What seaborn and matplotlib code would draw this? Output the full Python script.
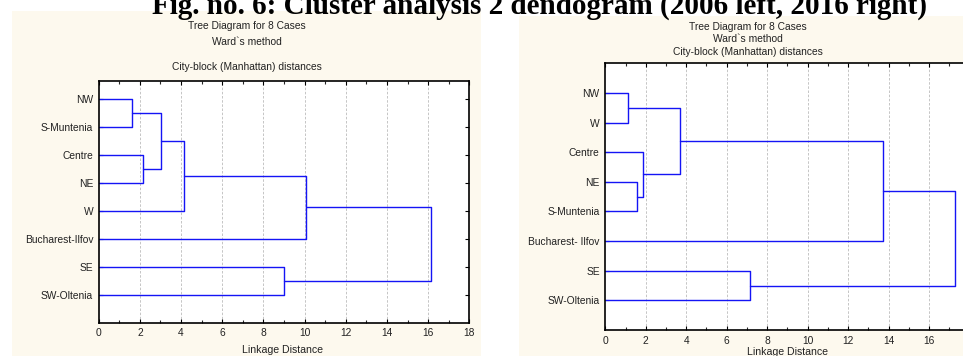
import matplotlib
matplotlib.use("Agg")
import matplotlib.pyplot as plt
import seaborn as sns
import pandas as pd
from matplotlib.patches import Rectangle

# ---------------- data ----------------
leaves_2006 = ["NW", "S-Muntenia", "Centre", "NE", "W", "Bucharest-Ilfov", "SE", "SW-Oltenia"]
merge_a_2006 = [0, 2, 8, 10, 11, 6, 12]
merge_b_2006 = [1, 3, 9, 4, 5, 7, 13]
height_2006 = [1.60, 2.17, 3.01, 4.16, 10.05, 8.99, 16.12]

leaves_2016 = ["NW", "W", "Centre", "NE", "S-Muntenia", "Bucharest- Ilfov", "SE", "SW-Oltenia"]
merge_a_2016 = [0, 3, 2, 8, 11, 6, 12]
merge_b_2016 = [1, 4, 9, 10, 5, 7, 13]
height_2016 = [1.14, 1.57, 1.88, 3.71, 13.71, 7.17, 17.28]

x_ticks = [0, 2, 4, 6, 8, 10, 12, 14, 16, 18]
subtitles = ["Tree Diagram for 8 Cases", "Ward`s method", "City-block (Manhattan) distances"]
fig_title = "Fig. no. 6: Cluster analysis 2 dendogram (2006 left, 2016 right)"
x_label = "Linkage Distance"

sns.set_style("white")
plt.rcParams["font.family"] = ["Liberation Sans", "DejaVu Sans"]

W, H = 963, 356
fig = plt.figure(figsize=(W / 100, H / 100), dpi=100)
fig.patch.set_facecolor("white")

BEIGE = "#FDF9EE"
BLUE = "#1414F5"
TXT = "#222222"


def fx(px):
    return px / W


def fy(py):
    return 1 - py / H


def dendro_frame(leaves, ma, mb, hs):
    n = len(leaves)
    pos = {i: i + 1 for i in range(n)}
    hgt = {i: 0.0 for i in range(n)}
    rows = []
    for k, (a, b, h) in enumerate(zip(ma, mb, hs)):
        ya, yb = pos[a], pos[b]
        seg = f"m{k}"
        for (x, y) in [(hgt[a], ya), (h, ya), (h, yb), (hgt[b], yb)]:
            rows.append({"x": x, "y": y, "seg": seg})
        new = n + k
        pos[new] = (ya + yb) / 2
        hgt[new] = h
    return pd.DataFrame(rows)


def draw_panel(rect, leaves, ma, mb, hs, ylim):
    ax = fig.add_axes(rect)
    ax.set_facecolor("white")
    df = dendro_frame(leaves, ma, mb, hs)
    sns.lineplot(data=df, x="x", y="y", units="seg", estimator=None, sort=False,
                 color=BLUE, linewidth=1.0, ax=ax, legend=False)
    ax.set_xlim(0, 18)
    ax.set_ylim(*ylim)
    ax.set_xticks(x_ticks)
    ax.set_xticks(range(1, 18, 2), minor=True)
    ax.set_xticklabels([str(t) for t in x_ticks], fontsize=7.4)
    ax.set_yticks(range(1, len(leaves) + 1))
    ax.set_yticklabels(leaves, fontsize=7.4)
    ax.set_xlabel("")
    ax.set_ylabel("")
    for t in x_ticks[1:-1]:
        ax.axvline(t, color="#BBBBBB", linestyle=(0, (3, 2)), linewidth=0.6, zorder=0)
    for s in ax.spines.values():
        s.set_visible(True)
        s.set_color("black")
        s.set_linewidth(1.2)
    ax.tick_params(axis="x", which="major", direction="in", length=3, width=0.8,
                   top=True, bottom=True, pad=4, colors="black", labelcolor=TXT)
    ax.tick_params(axis="x", which="minor", direction="in", length=2, width=0.8,
                   top=True, bottom=True)
    ax.tick_params(axis="y", direction="in", length=3, width=0.8, left=True, right=True,
                   pad=4, colors="black", labelcolor=TXT)
    return ax


# beige panels
fig.patches.append(Rectangle((fx(12), 0), fx(481 - 12), fy(11), transform=fig.transFigure,
                             facecolor=BEIGE, edgecolor="none", zorder=-10))
fig.patches.append(Rectangle((fx(519), 0), fx(460), fy(16), transform=fig.transFigure,
                             facecolor=BEIGE, edgecolor="none", zorder=-10))

# left panel
L0, L1, T0, B0 = 98.7, 469.3, 81, 322.7
draw_panel([fx(L0), fy(B0), fx(L1 - L0), (B0 - T0) / H],
           leaves_2006, merge_a_2006, merge_b_2006, height_2006, (9.0, 0.35))

# right panel (extends past figure edge)
R0, R1, T1, B1 = 605.3, 605.3 + 18 * 20.23, 63.3, 330
draw_panel([fx(R0), fy(B1), fx(R1 - R0), (B1 - T1) / H],
           leaves_2016, merge_a_2016, merge_b_2016, height_2016, (9.0, 0.0))

# subtitles
for txt, y in zip(subtitles, [26, 42, 67]):
    fig.text(fx(246.5), fy(y), txt, ha="center", va="center", fontsize=7.4, color=TXT)
for txt, y in zip(subtitles, [27, 39.5, 52]):
    fig.text(fx(748), fy(y), txt, ha="center", va="center", fontsize=7.4, color=TXT)

fig.text(fx(282), fy(350), x_label, ha="center", va="center", fontsize=7.6, color=TXT)
fig.text(fx(787), fy(352), x_label, ha="center", va="center", fontsize=7.6, color=TXT)

# figure title (partially cut at top, as in the source)
fig.text(fx(540), fy(13.5), fig_title, ha="center", va="baseline", fontsize=21,
         fontweight="bold", family=["Liberation Serif", "DejaVu Serif"], color="black")

fig.savefig("out.png", dpi=100, facecolor="white")
